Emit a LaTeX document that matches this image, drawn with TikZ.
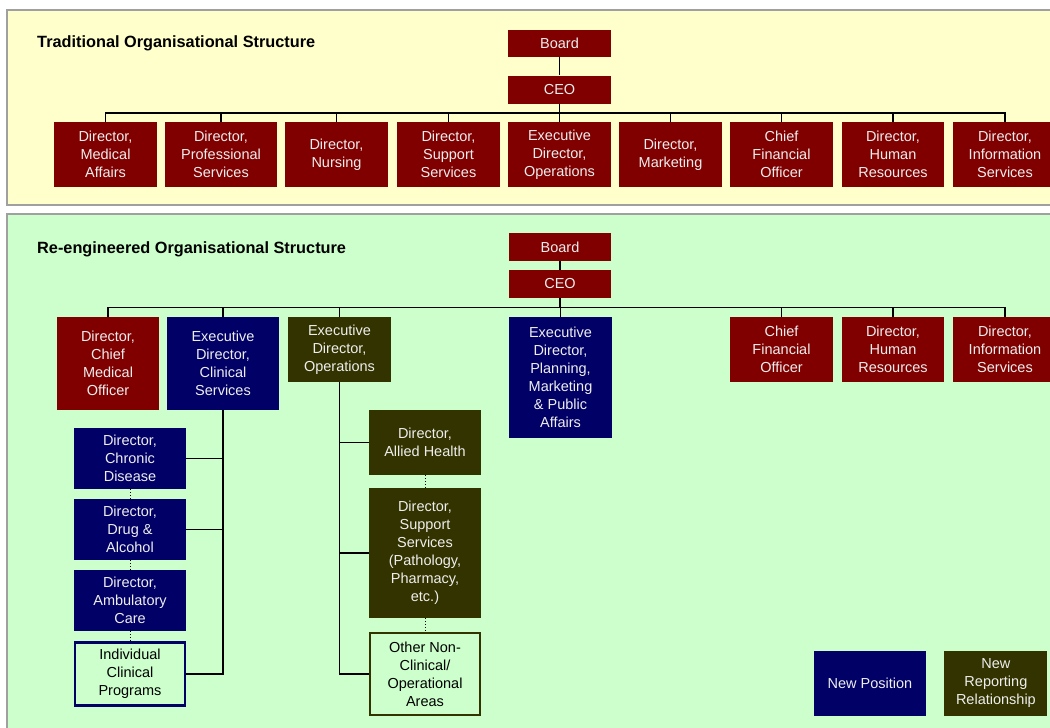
\documentclass[tikz,border=0pt]{standalone}
\usepackage{fontspec}
\setmainfont{Liberation Sans}
\usetikzlibrary{positioning}

\definecolor{oldred}{HTML}{800000}
\definecolor{newnavy}{HTML}{000066}
\definecolor{newolive}{HTML}{333300}
\definecolor{oldbg}{HTML}{FFFFCC}
\definecolor{newbg}{HTML}{CCFFCC}
\definecolor{panelrule}{HTML}{A0A0A0}
\definecolor{posttext}{HTML}{EEEEEE}
\newcommand{\boxfont}{\fontsize{14.5}{18}\selectfont}
\newcommand{\headfont}{\fontsize{16.3}{19}\selectfont\bfseries}

\begin{document}
\begin{tikzpicture}[
		x=1pt, y=-1pt,
		post/.style={rectangle, inner sep=0pt, align=center, text=posttext, font=\boxfont},
		oldpost/.style={post, fill=oldred},
		newpost/.style={post, fill=newnavy},
		movedpost/.style={post, fill=newolive},
		openpost/.style={post, fill=newbg, text=black, draw=#1, line width=2.2pt},
		dims/.style 2 args={minimum width=#1pt, minimum height=#2pt},
		panel/.style={draw=panelrule, line width=1.5pt},
		line/.style={draw, line width=1.3pt},
		dotted_line/.style={draw, dotted, line width=1pt, black},
		heading/.style={anchor=west, inner sep=0pt, font=\headfont}
	]
	\useasboundingbox (0,0) rectangle (1050,728);
	\fill[white] (0,0) rectangle (1050,728);
	\clip (0,0) rectangle (1050,728);

	% Panels
	\path [panel, fill=oldbg] (7,10) rectangle (1065,205);
	\path [panel, fill=newbg] (7,214) rectangle (1065,740);

	% Traditional structure
	\node [heading] (oldtitle) at (37,43) {Traditional Organisational Structure};
	\node [oldpost, dims={103}{27}] (oboard) at (559.5,43) {Board};
	\node [oldpost, dims={103}{28}] (oceo) at (559.5,89.5) {CEO};
	\coordinate (obus) at (0,113);

	\node [oldpost, dims={103}{65}] (o1) at (105.5,154.5) {Director,\\Medical\\Affairs};
	\node [oldpost, dims={112}{65}] (o2) at (221,154.5) {Director,\\Professional\\Services};
	\node [oldpost, dims={103}{65}] (o3) at (336.5,154.5) {Director,\\Nursing};
	\node [oldpost, dims={103}{65}] (o4) at (448.5,154.5) {Director,\\Support\\Services};
	\node [oldpost, dims={103}{65}] (o5) at (559.5,154.5) {Executive\\Director,\\Operations};
	\node [oldpost, dims={103}{65}] (o6) at (670.5,154.5) {Director,\\Marketing};
	\node [oldpost, dims={103}{65}] (o7) at (781.5,154.5) {Chief\\Financial\\Officer};
	\node [oldpost, dims={102}{65}] (o8) at (893,154.5) {Director,\\Human\\Resources};
	\node [oldpost, dims={104}{65}] (o9) at (1005,154.5) {Director,\\Information\\Services};

	\path [line] (oboard) -- (oceo);
	\path [line] (oceo) -- (oceo |- obus);
	\path [line] (o1.north) -- (o1.north |- obus) -- (o9.north |- obus) -- (o9.north);
	\foreach \n in {2,...,8}
		\path [line] (o\n.north) -- (o\n.north |- obus);

	% Re-engineered structure
	\node [heading] (newtitle) at (37,249) {Re-engineered Organisational Structure};
	\node [oldpost, dims={102}{28}] (nboard) at (560,247) {Board};
	\node [oldpost, dims={102}{28}] (nceo) at (560,284) {CEO};
	\coordinate (nbus) at (0,307.5);

	\node [oldpost, dims={102}{93}] (cmo) at (108,363.5) {Director,\\Chief\\Medical\\Officer};
	\node [newpost, dims={112}{93}] (clin) at (223,363.5) {Executive\\Director,\\Clinical\\Services};
	\node [movedpost, dims={103}{65}] (ops) at (339.5,349.5) {Executive\\Director,\\Operations};
	\node [newpost, dims={103}{121}] (plan) at (560.5,377.5) {Executive\\Director,\\Planning,\\Marketing\\\& Public\\Affairs};
	\node [oldpost, dims={103}{65}] (cfo) at (781.5,349.5) {Chief\\Financial\\Officer};
	\node [oldpost, dims={102}{65}] (hr) at (893,349.5) {Director,\\Human\\Resources};
	\node [oldpost, dims={104}{65}] (is) at (1005,349.5) {Director,\\Information\\Services};

	\path [line] (nboard) -- (nceo);
	\path [line] (nceo) -- (nceo |- nbus);
	\path [line] (cmo.north) -- (cmo.north |- nbus) -- (is.north |- nbus) -- (is.north);
	\foreach \n in {clin,ops,plan,cfo,hr}
		\path [line] (\n.north) -- (\n.north |- nbus);

	% Clinical programs
	\node [newpost, dims={112}{61}] (chronic) at (130,458.5) {Director,\\Chronic\\Disease};
	\node [newpost, dims={112}{61}] (drug) at (130,529.5) {Director,\\Drug \&\\Alcohol};
	\node [newpost, dims={112}{61}] (amb) at (130,600.5) {Director,\\Ambulatory\\Care};
	\node [openpost=newnavy, dims={110}{63}] (progs) at (130,674) {Individual\\Clinical\\Programs};

	\path [line] (clin.south) -- (clin.south |- progs.east) -- (progs.east);
	\path [line] (chronic.east) -- (chronic.east -| clin.south);
	\path [line] (drug.east) -- (drug.east -| clin.south);
	\path [dotted_line] (chronic) -- (drug);
	\path [dotted_line] (drug) -- (amb);
	\path [dotted_line] (amb) -- (progs);

	% Operations
	\node [movedpost, dims={112}{65}] (allied) at (425,442.5) {Director,\\Allied Health};
	\node [movedpost, dims={112}{130}] (support) at (425,553) {Director,\\Support\\Services\\(Pathology,\\Pharmacy,\\etc.)};
	\node [openpost=newolive, dims={110}{82}] (other) at (425,674) {Other Non-\\Clinical/\\Operational\\Areas};

	\path [line] (ops.south) -- (ops.south |- other.west) -- (other.west);
	\path [line] (allied.west) -- (allied.west -| ops.south);
	\path [line] (support.west) -- (support.west -| ops.south);
	\path [dotted_line] (allied) -- (support);
	\path [dotted_line] (support) -- (other);

	% Legend
	\node [newpost, dims={112}{65}] (keynew) at (870,683.5) {New Position};
	\node [movedpost, dims={103}{65}, right=18pt of keynew] (keymoved) {New\\Reporting\\Relationship};

\end{tikzpicture}
\end{document}
